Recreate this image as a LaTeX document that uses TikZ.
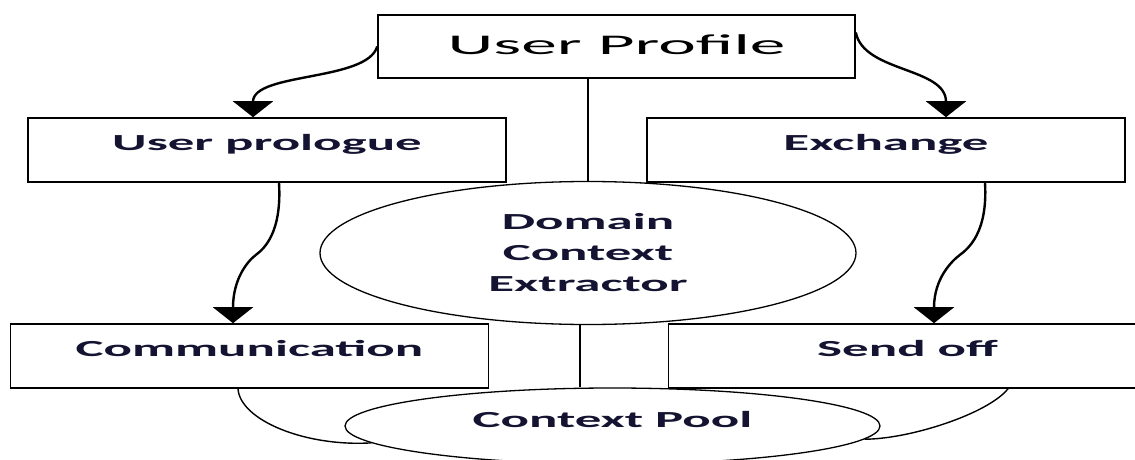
\documentclass[tikz,border=0pt]{standalone}
\usepackage{fontspec}
\setmainfont{Carlito}[FakeStretch=2.3]
\newfontfamily\titlefont{Carlito}[FakeStretch=2.5]
\usepackage{xcolor}
\definecolor{mynavy}{RGB}{20,20,50}
\usepackage{tikz}
\usetikzlibrary{shapes.geometric,arrows.meta,positioning}

\begin{document}
\begin{tikzpicture}[
  x=1pt,
  y=1pt,
  mybox/.style={
    draw,
    line width=1.6pt,
    rectangle,
    minimum width=478pt,
    minimum height=64pt,
    inner sep=0pt,
    font=\fontsize{23}{30}\selectfont\bfseries,
    text=mynavy,
    text height=15pt,
    text depth=15pt
    },
  myellipse/.style={
    draw,
    line width=1.3pt,
    ellipse,
    inner sep=0pt,
    font=\fontsize{23}{31}\selectfont\bfseries,
    text=mynavy,
    align=center
    },
  myarrow/.style={
    line width=2.4pt,
    -{Triangle[width=40pt,length=16pt]}
    },
  myline/.style={line width=1.6pt},
  mycurve/.style={line width=1.4pt}
]
\useasboundingbox (0,0) rectangle (1135,459);

\node[mybox, minimum width=477pt, minimum height=63pt,
      font=\titlefont\fontsize{28.5}{34}\selectfont, text=black,
      text height=17pt, text depth=0pt]
  (profile) at (616.5,412.5) {User Profile};

\node[mybox] (prologue) at (267,309) {User prologue};
\node[mybox] (exchange) at (886,309) {Exchange};

\node[myellipse, minimum width=536pt, minimum height=143pt]
  (domain) at (588,206) {Domain\\Context\\Extractor};

\node[mybox] (comm) at (249.5,103) {Communication};
\node[mybox] (sendoff) at (907.5,103) {Send off};

\node[myellipse, minimum width=535pt, minimum height=76pt,
      text height=14pt, text depth=12pt]
  (pool) at (612.5,33) {Context Pool};

% vertical links through the middle
\draw[myline] (domain.north) -- (domain.north |- profile.south);
\draw[myline] ([xshift=-8pt]domain.south) -- ([xshift=-8pt]domain.south |- pool.north);

% arrows
\draw[myarrow] (profile.west) .. controls +(-10,-35) and +(0,45) .. ([xshift=-14pt]prologue.north);
\draw[myarrow] ([yshift=14pt]profile.east) .. controls +(8,-40) and +(0,50) .. ([xshift=60pt]exchange.north);

\draw[myarrow] ([xshift=12pt]prologue.south)
  .. controls +(3,-50) and +(8,6) .. ++(-23,-72)
  .. controls +(-8,-6) and +(0,45) .. ([xshift=-16.5pt]comm.north);
\draw[myarrow] ([xshift=99pt]exchange.south)
  .. controls +(3,-50) and +(8,6) .. ++(-25,-72)
  .. controls +(-8,-6) and +(0,45) .. ([xshift=26.5pt]sendoff.north);

% curves into the pool
\draw[mycurve] ([xshift=-11.5pt]comm.south) .. controls +(2,-31) and +(-67,-4) .. (pool.184);
\draw[mycurve] ([xshift=100.5pt]sendoff.south) .. controls +(-20,-25) and +(45,0) .. (pool.357);

\end{tikzpicture}
\end{document}
